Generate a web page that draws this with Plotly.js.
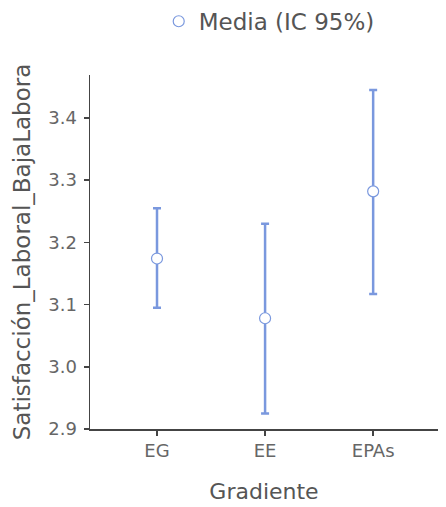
<!DOCTYPE html>
<html>
<head>
<meta charset="utf-8">
<script src="https://cdn.plot.ly/plotly-3.0.1.min.js"></script>
<style>html,body{margin:0;padding:0;background:#fff;}#chart{width:446px;height:507px;}</style>
</head>
<body>
<div id="chart"></div>
<script>
const categories = ["EG", "EE", "EPAs"];
const means = [3.174, 3.078, 3.282];
const ciLower = [3.095, 2.925, 3.117];
const ciUpper = [3.255, 3.230, 3.445];
const yTicks = [2.9, 3.0, 3.1, 3.2, 3.3, 3.4];
const yTickLabels = ["2.9", "3.0", "3.1", "3.2", "3.3", "3.4"];

const errPlus = means.map((m, i) => ciUpper[i] - m);
const errMinus = means.map((m, i) => m - ciLower[i]);
const blue = "rgb(122,152,222)";
const fam = "DejaVu Sans, sans-serif";

const trace = {
  type: "scatter",
  mode: "markers",
  x: [0, 1, 2],
  y: means,
  name: "Media (IC 95%)",
  marker: { size: 11, color: "#ffffff", line: { color: blue, width: 1.2 } },
  error_y: { type: "data", symmetric: false, array: errPlus, arrayminus: errMinus, color: blue, thickness: 2.5, width: 4 },
  showlegend: true
};

const axisFont = { family: fam, size: 18, color: "#666" };
const layout = {
  width: 446, height: 507,
  margin: { l: 90, r: 8, t: 75, b: 78 },
  paper_bgcolor: "#fff", plot_bgcolor: "#fff",
  font: { family: fam, color: "#444" },
  showlegend: true,
  legend: { orientation: "h", x: 0.515, xanchor: "center", yref: "container", y: 0.958, yanchor: "middle",
            font: { family: fam, size: 23, color: "#555" }, bgcolor: "rgba(0,0,0,0)" },
  xaxis: {
    range: [-0.62, 2.6], tickmode: "array", tickvals: [0, 1, 2], ticktext: categories,
    showgrid: false, zeroline: false, showline: true, linecolor: "#444", linewidth: 1.5,
    ticks: "outside", ticklen: 5, tickcolor: "#444", tickwidth: 1.5, tickfont: axisFont,
    automargin: false,
    title: { text: "Gradiente", font: { family: fam, size: 22, color: "#555" }, standoff: 23 }
  },
  yaxis: {
    range: [2.9, 3.469], tickmode: "array", tickvals: yTicks, ticktext: yTickLabels,
    showgrid: false, zeroline: false, showline: true, linecolor: "#444", linewidth: 1.5,
    ticks: "outside", ticklen: 5, tickcolor: "#444", tickwidth: 1.5, tickfont: axisFont,
    ticklabelstandoff: 3, automargin: false,
    title: { text: "Satisfacción_Laboral_BajaLabora", font: { family: fam, size: 23, color: "#555" }, standoff: 11 }
  }
};

Plotly.newPlot("chart", [trace], layout, { staticPlot: true, displayModeBar: false });
</script>
</body>
</html>
